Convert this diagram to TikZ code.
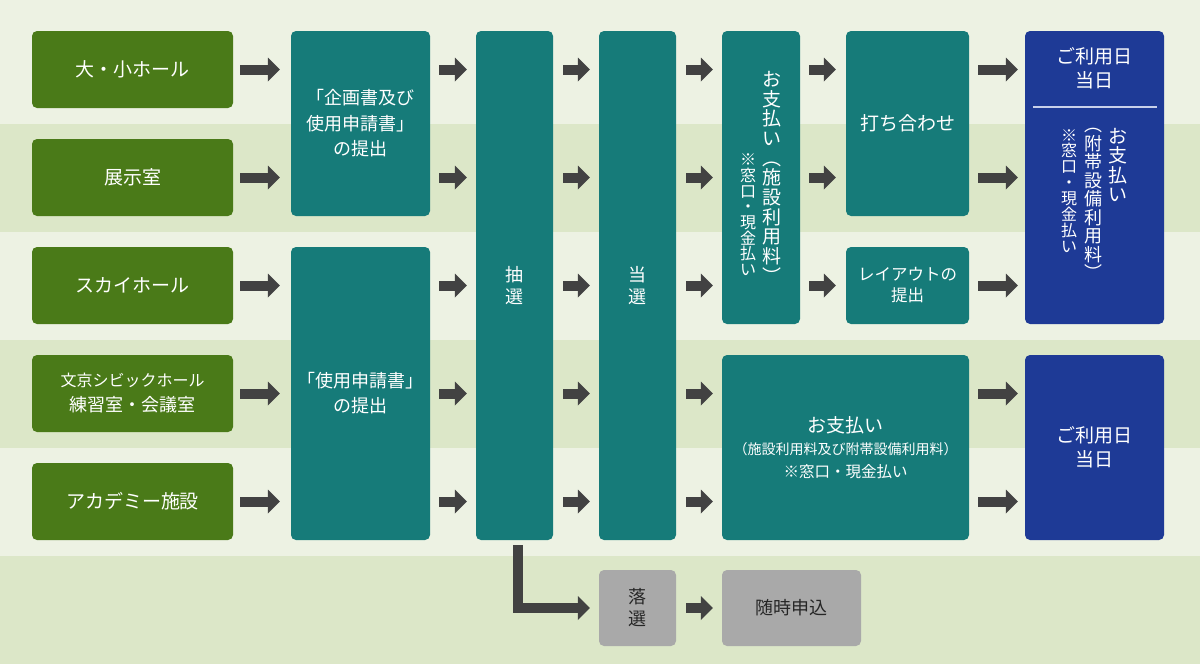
\documentclass[tikz,border=0pt]{standalone}
\usepackage{fontspec}
\newfontfamily\jp{Noto Sans CJK JP}
\usetikzlibrary{arrows.meta}
\definecolor{bandA}{HTML}{EDF2E3}
\definecolor{bandB}{HTML}{DCE7C8}
\definecolor{gr}{HTML}{4A7A18}
\definecolor{tl}{HTML}{167B79}
\definecolor{bl}{HTML}{1E3A96}
\definecolor{gy}{HTML}{A9A9A9}
\definecolor{ar}{HTML}{424242}
\definecolor{dv}{HTML}{C8D0EA}
\begin{document}
\begin{tikzpicture}[x=1pt,y=-1pt,
 box/.style={rounded corners=5pt, inner sep=0pt, text=white, align=center, font=\jp\fontsize{19}{25}\selectfont},
 gbox/.style={box, fill=gr, minimum width=201pt, minimum height=77pt},
 tbox/.style={box, fill=tl},
 bbox/.style={box, fill=bl},
 ybox/.style={box, fill=gy, text=black!85},
 vtxt/.style={inner sep=0pt, text=white, align=center},
 arr/.style={draw=ar, line width=10pt, -{Triangle[length=12pt,width=24pt,line width=0pt]}},
]
\useasboundingbox (0,0) rectangle (1200,664);
% bands
\fill[bandA] (0,0) rectangle (1200,124);
\fill[bandB] (0,124) rectangle (1200,232);
\fill[bandA] (0,232) rectangle (1200,340);
\fill[bandB] (0,340) rectangle (1200,448);
\fill[bandA] (0,448) rectangle (1200,556);
\fill[bandB] (0,556) rectangle (1200,664);
% row coordinates
\coordinate (r1) at (0,69.5);
\coordinate (r2) at (0,177.5);
\coordinate (r3) at (0,285.5);
\coordinate (r4) at (0,393.5);
\coordinate (r5) at (0,501.5);
% column 1
\node[gbox] (g1) at (132.5,69.5) {大・小ホール};
\node[gbox] (g2) at (132.5,177.5) {展示室};
\node[gbox] (g3) at (132.5,285.5) {スカイホール};
\node[gbox, font=\jp\fontsize{17}{25}\selectfont] (g4) at (132.5,393.5) {{\fontsize{16}{25}\selectfont 文京シビックホール}\\{\fontsize{18}{25}\selectfont 練習室・会議室}};
\node[gbox] (g5) at (132.5,501.5) {アカデミー施設};
% column 2
\node[tbox, minimum width=139pt, minimum height=185pt, font=\jp\fontsize{18}{25.5}\selectfont] (c2a) at (360.5,123.5) {「企画書及び\\使用申請書」\\の提出};
\node[tbox, minimum width=139pt, minimum height=293pt, font=\jp\fontsize{18}{25}\selectfont] (c2b) at (360.5,393.5) {「使用申請書」\\の提出};
% lottery
\node[tbox, minimum width=77pt, minimum height=509pt, font=\jp\fontsize{18}{22}\selectfont] (cho) at (514.5,285.5) {抽\\選};
\node[tbox, minimum width=77pt, minimum height=509pt, font=\jp\fontsize{18}{22}\selectfont] (tou) at (637.5,285.5) {当\\選};
% payment column
\node[tbox, minimum width=78pt, minimum height=293pt] (pay1) at (761,177.5) {};
\node[vtxt, anchor=north, font=\jp\fontsize{19}{19.7}\selectfont] (pay1a) at (772,71) {お\\支\\払\\い\\︵\\施\\設\\利\\用\\料\\︶};
\node[vtxt, anchor=south, font=\jp\fontsize{16}{15.7}\selectfont] (pay1b) at (748,276) {※\\窓\\口\\・\\現\\金\\払\\い};
\node[tbox, minimum width=247pt, minimum height=185pt, font=\jp\fontsize{19}{22.5}\selectfont] (pay2) at (845.5,447.5) {お支払い\\{\fontsize{14}{22.5}\selectfont （施設利用料及び附帯設備利用料）}\\{\fontsize{15.5}{22.5}\selectfont ※窓口・現金払い}};
% meeting / layout
\node[tbox, minimum width=123pt, minimum height=185pt] (meet) at (907.5,123.5) {打ち合わせ};
\node[tbox, minimum width=123pt, minimum height=77pt, font=\jp\fontsize{16.5}{21}\selectfont] (lay) at (907.5,285.5) {レイアウトの\\提出};
% blue
\node[bbox, minimum width=139pt, minimum height=293pt] (blue1) at (1094.5,177.5) {};
\node[vtxt, font=\jp\fontsize{19}{23.5}\selectfont] (blue1t) at (1094.5,68.5) {ご利用日\\当日};
\draw[dv, line width=2pt] (1033,107) -- (1157,107);
\node[vtxt, anchor=north, font=\jp\fontsize{19}{19.5}\selectfont] (blue1a) at (1118,128) {お\\支\\払\\い};
\node[vtxt, anchor=north, font=\jp\fontsize{18}{18.5}\selectfont] (blue1b) at (1093,128) {︵\\附\\帯\\設\\備\\利\\用\\料\\︶};
\node[vtxt, anchor=north, font=\jp\fontsize{16}{15.9}\selectfont] (blue1c) at (1069,129) {※\\窓\\口\\・\\現\\金\\払\\い};
\node[bbox, minimum width=139pt, minimum height=185pt, font=\jp\fontsize{19}{24}\selectfont] (blue2) at (1094.5,447.5) {ご利用日\\当日};
% losing
\node[ybox, minimum width=77pt, minimum height=76pt, font=\jp\fontsize{18}{22}\selectfont] (raku) at (637.5,608) {落\\選};
\node[ybox, minimum width=139pt, minimum height=76pt, font=\jp\fontsize{18}{22}\selectfont] (zuiji) at (791.5,608) {随時申込};
% arrows
\foreach \g/\t/\r in {g1/c2a/r1, g2/c2a/r2, g3/c2b/r3, g4/c2b/r4, g5/c2b/r5}{
  \draw[arr, shorten <=7pt, shorten >=11pt] (\g.east |- \r) -- (\t.west |- \r);
  \draw[arr, shorten <=9pt, shorten >=9pt] (\t.east |- \r) -- (cho.west |- \r);
  \draw[arr, shorten <=10pt, shorten >=9pt] (cho.east |- \r) -- (tou.west |- \r);
}
\foreach \r in {r1,r2,r3}{
  \draw[arr, shorten <=10pt, shorten >=9pt] (tou.east |- \r) -- (pay1.west |- \r);
}
\foreach \r in {r4,r5}{
  \draw[arr, shorten <=10pt, shorten >=9pt] (tou.east |- \r) -- (pay2.west |- \r);
  \draw[arr, shorten <=9pt, shorten >=7pt] (pay2.east |- \r) -- (blue2.west |- \r);
}
\draw[arr, shorten <=9pt, shorten >=10pt] (pay1.east |- r1) -- (meet.west |- r1);
\draw[arr, shorten <=9pt, shorten >=10pt] (pay1.east |- r2) -- (meet.west |- r2);
\draw[arr, shorten <=9pt, shorten >=10pt] (pay1.east |- r3) -- (lay.west |- r3);
\draw[arr, shorten <=9pt, shorten >=7pt] (meet.east |- r1) -- (blue1.west |- r1);
\draw[arr, shorten <=9pt, shorten >=7pt] (meet.east |- r2) -- (blue1.west |- r2);
\draw[arr, shorten <=9pt, shorten >=7pt] (lay.east |- r3) -- (blue1.west |- r3);
% lottery loss
\draw[arr, line join=miter, shorten >=9pt] ([xshift=3.5pt,yshift=-5pt]cho.south) |- (raku.west);
\draw[arr, shorten <=10pt, shorten >=9pt] (raku) -- (zuiji);
\end{tikzpicture}
\end{document}
